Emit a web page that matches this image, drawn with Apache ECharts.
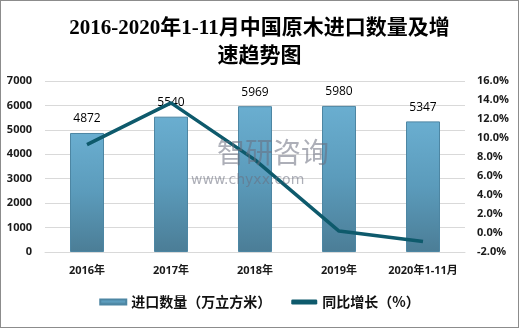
<!DOCTYPE html>
<html>
<head>
<meta charset="utf-8">
<script src="https://cdn.jsdelivr.net/npm/echarts@6/dist/echarts.min.js"></script>
<style>
  html, body { margin: 0; padding: 0; background: #fff; }
  #chart { width: 519px; height: 328px; box-sizing: border-box; border: 1px solid #8c8c8c; }
</style>
</head>
<body>
<div id="chart"></div>
<script>
// Categories and values
const categories = ['2016年', '2017年', '2018年', '2019年', '2020年1-11月'];
const importVolume = [4872, 5540, 5969, 5980, 5347];     // 万立方米
const yoyGrowth = [9.3, 13.7, 7.7, 0.2, -0.9];            // %
const leftTicks = { min: 0, max: 7000, interval: 1000 };
const rightTicks = { min: -2, max: 16, interval: 2 };

const chart = echarts.init(document.getElementById('chart'), null, { renderer: 'canvas' });
const axisFont = { color: '#1a1a1a', fontSize: 11, fontWeight: 'bold', fontFamily: 'Open Sans, Noto Sans CJK SC, sans-serif' };
const watermark = 'rgba(105,110,125,0.55)';

chart.setOption({
  animation: false,
  title: {
    text: '2016-2020年1-11月中国原木进口数量及增\n速趋势图',
    left: 'center',
    top: 9,
    textStyle: {
      fontFamily: 'Liberation Serif, Noto Sans CJK SC, serif',
      fontSize: 21,
      fontWeight: 'bold',
      color: '#000',
      lineHeight: 28
    }
  },
  graphic: [
    {
      type: 'text', left: 216, top: 137, z: 100,
      style: { text: '智研咨询', fontSize: 28, fontFamily: 'Noto Sans CJK SC', fill: watermark }
    },
    {
      type: 'text', left: 190, top: 172, z: 100,
      style: { text: 'www.chyxx.com', fontSize: 14, fontFamily: 'DejaVu Sans', fill: watermark, letterSpacing: 3 }
    }
  ],
  legend: {
    bottom: 13,
    left: 'center',
    itemGap: 20,
    itemWidth: 26,
    itemHeight: 5,
    textStyle: { color: '#111', fontSize: 14, fontWeight: 'bold', fontFamily: 'Noto Sans CJK SC' },
    data: [
      { name: '进口数量（万立方米）', icon: 'rect' },
      { name: '同比增长（%）', icon: 'roundRect' }
    ]
  },
  grid: { left: 44, right: 53, top: 80, bottom: 75 },
  xAxis: {
    type: 'category',
    data: categories,
    axisLine: { lineStyle: { color: '#d9d9d9' } },
    axisTick: { show: false },
    axisLabel: Object.assign({ margin: 13, interval: 0 }, axisFont)
  },
  yAxis: [
    {
      type: 'value',
      min: leftTicks.min, max: leftTicks.max, interval: leftTicks.interval,
      axisLine: { show: false },
      axisTick: { show: false },
      splitLine: { lineStyle: { color: '#d9d9d9' } },
      axisLabel: Object.assign({ margin: 13, formatter: v => String(v) }, axisFont)
    },
    {
      type: 'value',
      min: rightTicks.min, max: rightTicks.max, interval: rightTicks.interval,
      axisLine: { show: false },
      axisTick: { show: false },
      splitLine: { show: false },
      axisLabel: Object.assign({ margin: 12, formatter: v => v.toFixed(1) + '%' }, axisFont)
    }
  ],
  series: [
    {
      name: '进口数量（万立方米）',
      type: 'bar',
      data: importVolume,
      barWidth: 34,
      itemStyle: {
        color: new echarts.graphic.LinearGradient(0, 0, 0, 1, [
          { offset: 0, color: '#6aaed0' },
          { offset: 0.5, color: '#5b9bbb' },
          { offset: 1, color: '#4b7d96' }
        ]),
        borderColor: '#4d86a3',
        borderWidth: 1
      },
      label: {
        show: true,
        position: 'top',
        distance: 8,
        color: '#000',
        fontSize: 12,
        fontFamily: 'Open Sans, sans-serif'
      }
    },
    {
      name: '同比增长（%）',
      type: 'line',
      yAxisIndex: 1,
      data: yoyGrowth,
      symbol: 'none',
      lineStyle: { color: '#0e5a6c', width: 3.5 },
      itemStyle: { color: '#0e5a6c' }
    }
  ]
});
</script>
</body>
</html>
